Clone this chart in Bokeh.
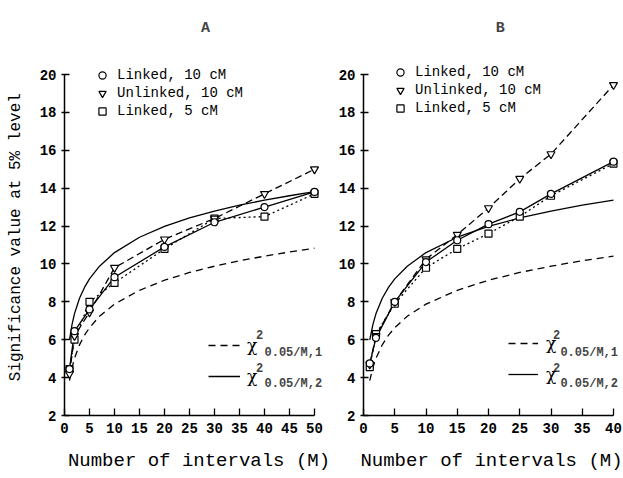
from bokeh.plotting import figure
from bokeh.models import Range1d, Legend, LegendItem, Label, FixedTicker
from bokeh.layouts import row
from bokeh.embed import file_html
from bokeh.resources import INLINE

FONT = "Liberation Mono"

# ---------------- data ----------------
# Panel A (M up to 50)
a_M = [1, 2, 5, 10, 20, 30, 40, 50]
a_linked10 = [4.45, 6.45, 7.6, 9.3, 10.9, 12.2, 13.0, 13.8]
a_unlinked10 = [4.2, 6.2, 7.45, 9.8, 11.3, 12.4, 13.7, 15.0]
a_linked5 = [4.45, 6.0, 8.0, 9.0, 10.8, 12.4, 12.5, 13.7]

# Panel B (M up to 40)
b_M = [1, 2, 5, 10, 15, 20, 25, 30, 40]
b_linked10 = [4.75, 6.1, 8.0, 10.1, 11.25, 12.1, 12.75, 13.7, 15.4]
b_unlinked10 = [4.7, 6.2, 8.0, 10.25, 11.55, 12.95, 14.5, 15.8, 19.45]
b_linked5 = [4.55, 6.3, 7.9, 9.8, 10.8, 11.6, 12.5, 13.6, 15.3]

# Bonferroni chi-square thresholds, chi2_{0.05/M, df}
chi_M = [1, 1.5, 2, 3, 4, 5, 7, 10, 15, 20, 25, 30, 35, 40, 45, 50]
chi_df1 = [3.84, 4.53, 5.02, 5.73, 6.24, 6.63, 7.24, 7.88, 8.61, 9.14,
           9.55, 9.88, 10.17, 10.41, 10.63, 10.83]
chi_df2 = [5.99, 6.80, 7.38, 8.19, 8.76, 9.21, 9.88, 10.60, 11.41, 11.98,
           12.43, 12.79, 13.10, 13.37, 13.60, 13.82]

a_xticks = [0, 5, 10, 15, 20, 25, 30, 35, 40, 45, 50]
b_xticks = [0, 5, 10, 15, 20, 25, 30, 35, 40]
yticks = [2, 4, 6, 8, 10, 12, 14, 16, 18, 20]

series_labels = ["Linked, 10 cM", "Unlinked, 10 cM", "Linked, 5 cM"]
chi_subs = ["0.05/M,1", "0.05/M,2"]

Y_TOP = 22.851  # frame extends above y=20 so the panel letter fits


def make_panel(M, s1, s2, s3, xmax, xview, xticks, title, title_x,
               border_left, border_right, frame_w, with_ylabel, leg_loc,
               chi_loc, chi_glyph_w, chi_standoff, sup_x, sub_x):
    p = figure(width=border_left + frame_w + border_right, height=478,
               x_range=Range1d(0, xview), y_range=Range1d(2, Y_TOP),
               output_backend="svg", toolbar_location=None,
               min_border_left=border_left, min_border_right=border_right,
               min_border_top=20, min_border_bottom=63)
    p.frame_width = frame_w
    p.frame_height = 395
    p.outline_line_color = None
    p.xgrid.visible = False
    p.ygrid.visible = False
    p.background_fill_color = "white"
    p.border_fill_color = "white"

    # chi-square curves
    cm = [m for m in chi_M if m <= xmax]
    c1 = p.line(cm, chi_df1[:len(cm)], line_color="black", line_width=1.3,
                line_dash="7 5")
    c2 = p.line(cm, chi_df2[:len(cm)], line_color="black", line_width=1.3)

    # simulated series
    p.line(M, s1, line_color="black", line_width=1.3)
    p.line(M, s2, line_color="black", line_width=1.3, line_dash="7 4")
    p.line(M, s3, line_color="black", line_width=1.3, line_dash="2 3")
    r3 = p.scatter(M, s3, marker="square", size=7, fill_color="white",
                   line_color="black", line_width=1.2)
    r2 = p.scatter(M, s2, marker="inverted_triangle", size=8,
                   fill_color="white", line_color="black", line_width=1.2)
    r1 = p.scatter(M, s1, marker="circle", size=7, fill_color="white",
                   line_color="black", line_width=1.2)

    leg = Legend(items=[LegendItem(label=series_labels[0], renderers=[r1]),
                        LegendItem(label=series_labels[1], renderers=[r2]),
                        LegendItem(label=series_labels[2], renderers=[r3])],
                 location=leg_loc, orientation="vertical",
                 label_text_font=FONT, label_text_font_size="14px",
                 label_text_color="black",
                 glyph_width=20, glyph_height=18, label_height=18,
                 label_standoff=5, spacing=0, padding=0, margin=0,
                 border_line_color=None, background_fill_alpha=0)
    p.add_layout(leg)

    leg2 = Legend(items=[LegendItem(label="\u03c7", renderers=[c1]),
                         LegendItem(label="\u03c7", renderers=[c2])],
                  location=chi_loc, orientation="vertical",
                  label_text_font="DejaVu Serif", label_text_font_size="17px",
                  label_text_color="black",
                  glyph_width=chi_glyph_w, glyph_height=20, label_height=20,
                  label_standoff=chi_standoff, spacing=11, padding=0, margin=0,
                  border_line_color=None, background_fill_alpha=0)
    p.add_layout(leg2)

    for ysup, ysub, sub in [(6.25, 5.3, chi_subs[0]), (4.55, 3.66, chi_subs[1])]:
        p.add_layout(Label(x=sup_x, y=ysup, text="2", text_font=FONT,
                           text_font_size="12px", text_font_style="bold",
                           text_align="center", text_baseline="middle"))
        p.add_layout(Label(x=sub_x, y=ysub, text=sub, text_font=FONT,
                           text_font_size="12px", text_font_style="bold",
                           text_align="left", text_baseline="middle"))

    p.add_layout(Label(x=title_x, y=22.43, text=title,
                       text_font=FONT, text_font_size="15px",
                       text_font_style="bold", text_align="center",
                       text_baseline="middle"))

    for ax in (p.xaxis[0], p.yaxis[0]):
        ax.axis_line_width = 1.5
        ax.major_tick_line_width = 1.3
        ax.minor_tick_line_color = None
        ax.major_label_text_font = FONT
        ax.major_label_text_font_size = "14px"
        ax.major_label_text_font_style = "bold"
        ax.major_label_text_color = "black"
        ax.axis_label_text_font = FONT
        ax.axis_label_text_font_style = "normal"
        ax.axis_label_text_color = "black"

    p.xaxis.ticker = FixedTicker(ticks=xticks)
    p.xaxis.bounds = (0, xmax)
    p.xaxis.major_tick_in = 7
    p.xaxis.major_tick_out = 0
    p.xaxis.major_label_standoff = 7
    p.xaxis.axis_label = "Number of intervals (M)"
    p.xaxis.axis_label_text_font_size = "19px"
    p.xaxis.axis_label_standoff = 14

    p.yaxis.ticker = FixedTicker(ticks=yticks)
    p.yaxis.bounds = (2, 20)
    p.yaxis.major_tick_in = 5
    p.yaxis.major_tick_out = 3
    p.yaxis.major_label_standoff = 5
    if with_ylabel:
        p.yaxis.axis_label = "Significance value at 5% level" + "\u00a0" * 4
        p.yaxis.axis_label_text_font_size = "16px"
        p.yaxis.axis_label_standoff = 12
    return p


pa = make_panel(a_M, a_linked10, a_unlinked10, a_linked5, 50, 53.8, a_xticks,
                "A", 28.2, 64, 0, 269, True, (28, 295), (144, 29), 32, 7,
                39.0, 40.0)
pb = make_panel(b_M, b_linked10, b_unlinked10, b_linked5, 40, 40.96, b_xticks,
                "B", 21.9, 30, 4, 256, False, (27, 298), (145, 31), 30, 8,
                30.9, 31.5)

layout = row(pa, pb, spacing=0)
open("out.html", "w").write(file_html(layout, INLINE))
